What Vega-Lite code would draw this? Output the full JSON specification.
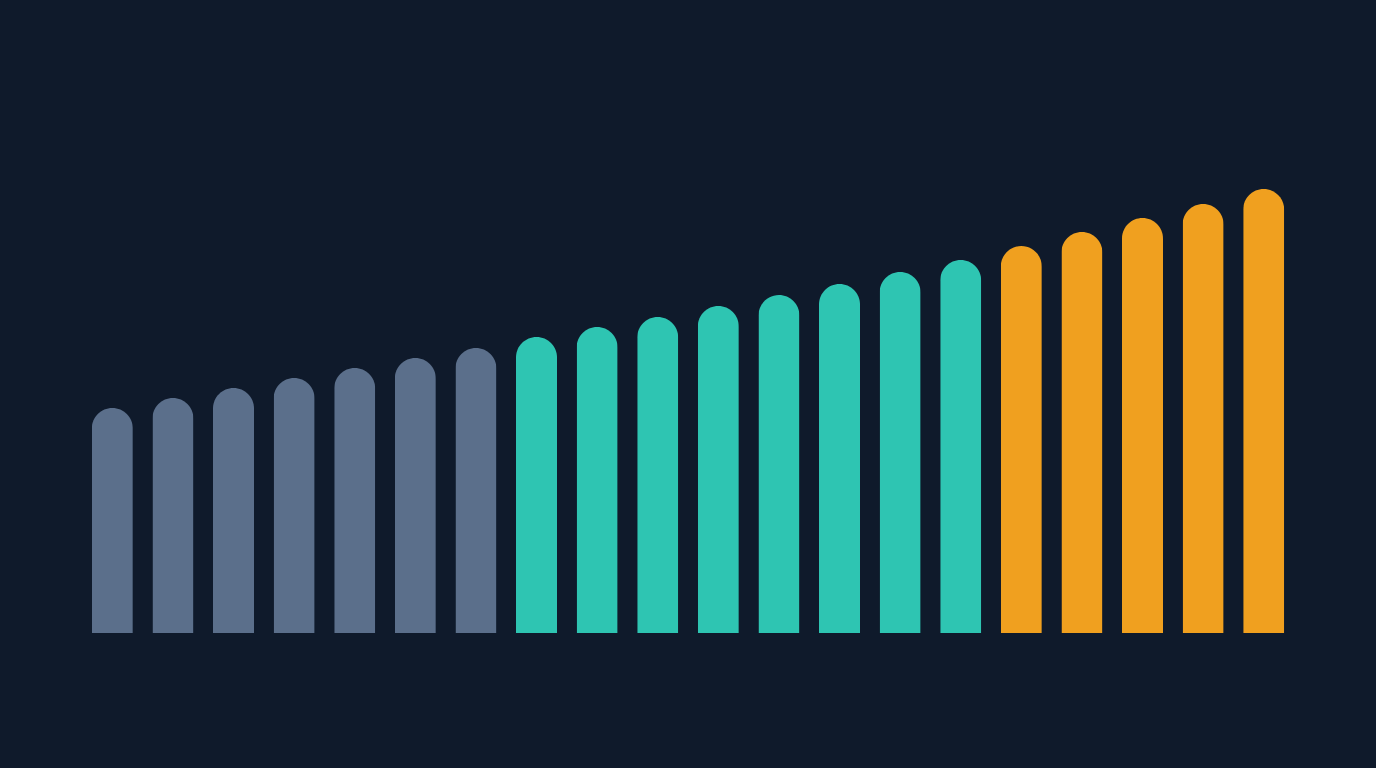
{
  "$schema": "https://vega.github.io/schema/vega-lite/v6.json",
  "width": 1376,
  "height": 768,
  "autosize": {"type": "fit", "contains": "padding"},
  "padding": {"left": 61.5, "right": 61.5, "top": 0, "bottom": 0},
  "background": "#0f1a2b",
  "config": {"view": {"stroke": null}},
  "data": {"values": [
    {"i": 1, "v": 22.5, "g": "a"},
    {"i": 2, "v": 23.5, "g": "a"},
    {"i": 3, "v": 24.5, "g": "a"},
    {"i": 4, "v": 25.5, "g": "a"},
    {"i": 5, "v": 26.5, "g": "a"},
    {"i": 6, "v": 27.5, "g": "a"},
    {"i": 7, "v": 28.5, "g": "a"},
    {"i": 8, "v": 29.6, "g": "b"},
    {"i": 9, "v": 30.6, "g": "b"},
    {"i": 10, "v": 31.6, "g": "b"},
    {"i": 11, "v": 32.7, "g": "b"},
    {"i": 12, "v": 33.8, "g": "b"},
    {"i": 13, "v": 34.9, "g": "b"},
    {"i": 14, "v": 36.1, "g": "b"},
    {"i": 15, "v": 37.3, "g": "b"},
    {"i": 16, "v": 38.7, "g": "c"},
    {"i": 17, "v": 40.1, "g": "c"},
    {"i": 18, "v": 41.5, "g": "c"},
    {"i": 19, "v": 42.9, "g": "c"},
    {"i": 20, "v": 44.4, "g": "c"}
  ]},
  "mark": {"type": "bar", "cornerRadiusTopLeft": 20.5, "cornerRadiusTopRight": 20.5},
  "encoding": {
    "x": {"field": "i", "type": "ordinal", "axis": null,
          "scale": {"paddingInner": 0.323, "paddingOuter": 0.5}},
    "y": {"field": "v", "type": "quantitative", "axis": null,
          "scale": {"domain": [-13.5, 63.3], "nice": false, "zero": false}},
    "color": {"field": "g", "type": "nominal", "legend": null,
              "scale": {"domain": ["a", "b", "c"], "range": ["#5b6f8b", "#2ec5b2", "#f0a01f"]}}
  }
}
